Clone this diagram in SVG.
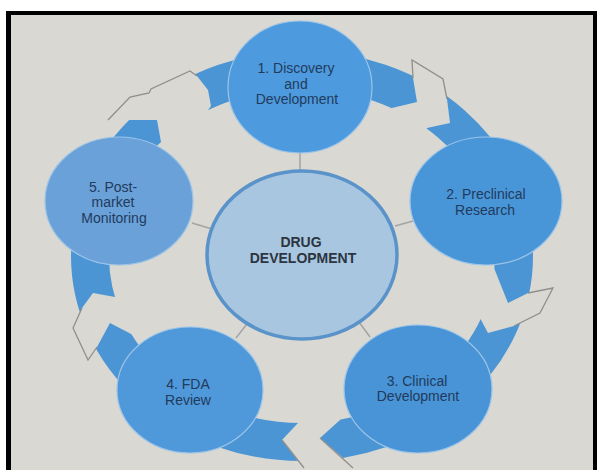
<svg xmlns="http://www.w3.org/2000/svg" width="597" height="470" viewBox="0 0 597 470">
  <style>
    .bg { fill: #d9d8d2; }
    .ring { fill: none; stroke: #4b95d5; stroke-width: 38; }
    .gap { fill: #d9d8d2; stroke: none; }
    .outline { fill: none; stroke: #8f8f8c; stroke-width: 1.3; stroke-linejoin: miter; }
    .spoke { stroke: #a2a5a4; stroke-width: 1.5; }
    .sat { stroke: #9cc4e8; stroke-width: 1.2; }
    .lbl { font-family: "Liberation Sans", Arial, sans-serif; font-size: 14px; fill: #223a5c; text-anchor: middle; }
    .ctr { font-family: "Liberation Sans", Arial, sans-serif; font-size: 14px; font-weight: bold; fill: #2c3440; text-anchor: middle; }
  </style>
  <rect x="0" y="0" width="597" height="470" fill="#ffffff"/>
  <rect class="bg" x="9" y="13" width="588" height="457"/>

  <g id="connectors">
    <ellipse class="ring" cx="302" cy="256" rx="212" ry="186"/>
    <!-- gap 1 -> 2 -->
    <polygon class="gap" points="412,60 443,79 447,99 450,123 427,128 420,140 388,115 392,108 417,102 413,78"/>
    <polyline class="outline" points="413,78 412,60 443,79 447,99"/>
    <!-- gap 2 -> 3 -->
    <polygon class="gap" points="553,288 528,293 508,303 494,268 478,270 470,320 480,318 488,333 514,326 540,313"/>
    <polyline class="outline" points="528,293 553,288 540,313 514,326"/>
    <!-- gap 3 -> 4 -->
    <polygon class="gap" points="340,420 320,438 341,456 352,467 352,476 303,476 303,467 298,461 282,440 298,423 300,405 340,405"/>
    <polyline class="outline" points="320,438 353,468"/>
    <polyline class="outline" points="282,440 304,468"/>
    <!-- gap 4 -> 5 -->
    <polygon class="gap" points="133,335 110,323 97,347 88,360 73,328 82,308 93,293 115,297 145,300 150,335"/>
    <polyline class="outline" points="97,347 88,360 73,328 82,308"/>
    <!-- gap 5 -> 1 -->
    <polygon class="gap" points="130,120 157,120 161,142 180,150 211,106 208,90 197,76 190,71 151,89 149,93 130,97 108,120"/>
    <polyline class="outline" points="108,120 130,97 149,93 151,89 190,71 197,76"/>
    <!-- spokes -->
    <line class="spoke" x1="300" y1="150" x2="300" y2="174"/>
    <line class="spoke" x1="395" y1="226" x2="413" y2="221"/>
    <line class="spoke" x1="356" y1="318" x2="370" y2="337"/>
    <line class="spoke" x1="250" y1="320" x2="236" y2="338"/>
    <line class="spoke" x1="192" y1="223" x2="212" y2="229"/>
  </g>

  <g id="node1">
    <ellipse class="sat" cx="300" cy="87" rx="72" ry="66" fill="#4d9ade"/>
    <text class="lbl" x="296" y="73">1. Discovery</text>
    <text class="lbl" x="296" y="88.5">and</text>
    <text class="lbl" x="297" y="104">Development</text>
  </g>
  <g id="node2">
    <ellipse class="sat" cx="486" cy="201" rx="76" ry="64" fill="#4896d8"/>
    <text class="lbl" x="486" y="199">2. Preclinical</text>
    <text class="lbl" x="485" y="214.5">Research</text>
  </g>
  <g id="node3">
    <ellipse class="sat" cx="418" cy="389" rx="74" ry="64" fill="#4894d6"/>
    <text class="lbl" x="417" y="385.5">3. Clinical</text>
    <text class="lbl" x="418" y="401">Development</text>
  </g>
  <g id="node4">
    <ellipse class="sat" cx="190" cy="390" rx="73" ry="63" fill="#4f99da"/>
    <text class="lbl" x="188" y="389">4. FDA</text>
    <text class="lbl" x="188" y="404.5">Review</text>
  </g>
  <g id="node5">
    <ellipse class="sat" cx="119" cy="201" rx="74" ry="64" fill="#6aa1d8"/>
    <text class="lbl" x="113" y="191.5">5. Post-</text>
    <text class="lbl" x="113" y="207">market</text>
    <text class="lbl" x="114" y="222.5">Monitoring</text>
  </g>
  <g id="center">
    <ellipse cx="302" cy="255" rx="95" ry="84" fill="#a8c6e0" stroke="#5a93c9" stroke-width="3.5"/>
    <text class="ctr" x="301" y="246.5">DRUG</text>
    <text class="ctr" x="303" y="262.5">DEVELOPMENT</text>
  </g>

  <g id="frame">
    <rect x="6" y="11" width="5" height="459" fill="#000"/>
    <rect x="6" y="11" width="591" height="4" fill="#000"/>
    <rect x="593" y="11" width="4" height="459" fill="#000"/>
  </g>
</svg>
